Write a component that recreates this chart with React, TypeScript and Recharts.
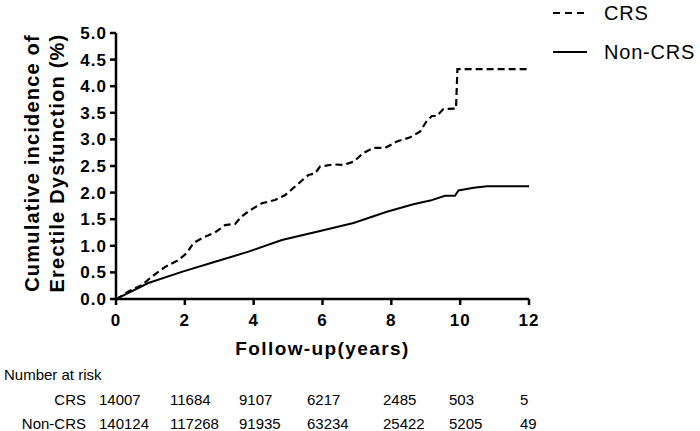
import { CartesianGrid, Line, LineChart, XAxis, YAxis } from 'recharts'

// cumulative incidence (%)
const crsYears = [
  0, 0.07, 0.36, 0.75, 1.04, 1.42, 1.81, 2.05, 2.25, 2.54, 2.88, 3.17, 3.46,
  3.65, 3.9, 4.24, 4.62, 4.91, 5.3, 5.59, 5.78, 5.93, 6.32, 6.6, 6.9, 7.18,
  7.47, 7.82, 8.16, 8.55, 8.84, 9.03, 9.18, 9.32, 9.51, 9.88, 9.92, 12,
]
const crsValues = [
  0, 0.02, 0.14, 0.26, 0.42, 0.6, 0.73, 0.86, 1.05, 1.16, 1.25, 1.39, 1.41,
  1.55, 1.67, 1.8, 1.86, 1.95, 2.17, 2.33, 2.36, 2.49, 2.53, 2.52, 2.58, 2.74,
  2.84, 2.84, 2.96, 3.04, 3.15, 3.35, 3.44, 3.44, 3.57, 3.58, 4.32, 4.32,
]
const nonCrsYears = [
  0, 0.07, 0.94, 1.91, 2.88, 3.85, 4.82, 5.93, 6.9, 7.87, 8.64, 9.13, 9.56,
  9.85, 9.95, 10.39, 10.78, 12,
]
const nonCrsValues = [
  0, 0.02, 0.3, 0.51, 0.7, 0.89, 1.11, 1.28, 1.43, 1.64, 1.78, 1.85, 1.94,
  1.94, 2.04, 2.09, 2.12, 2.12,
]

const xTicks = [0, 2, 4, 6, 8, 10, 12]
const yTicks = [0, 0.5, 1, 1.5, 2, 2.5, 3, 3.5, 4, 4.5, 5]

const riskGroups = ['CRS', 'Non-CRS']
const crsAtRisk = [14007, 11684, 9107, 6217, 2485, 503, 5]
const nonCrsAtRisk = [140124, 117268, 91935, 63234, 25422, 5205, 49]
const riskColumnLeft = [99, 170, 239, 307, 383, 449, 520]

const crsData = crsYears.map((year, i) => ({ year, value: crsValues[i] }))
const nonCrsData = nonCrsYears.map((year, i) => ({ year, value: nonCrsValues[i] }))

const WIDTH = 700
const HEIGHT = 431
const AXIS_FONT = '"Liberation Sans", Arial, sans-serif'
const tickStyle = {
  fontSize: 17,
  fontWeight: 700,
  fill: '#000',
  fontFamily: AXIS_FONT,
  letterSpacing: 1,
}

function YLabel() {
  const line = (text: string, left: number) => (
    <div
      style={{
        position: 'absolute',
        left,
        top: 163,
        transform: 'translate(-50%, -50%) rotate(-90deg)',
        whiteSpace: 'nowrap',
        fontFamily: AXIS_FONT,
        fontWeight: 700,
        fontSize: 20,
        letterSpacing: 1.2,
        lineHeight: 1,
      }}
    >
      {text}
    </div>
  )
  return (
    <>
      {line('Cumulative incidence of', 32)}
      {line('Erectile Dysfunction (%)', 57)}
    </>
  )
}

function LegendBox() {
  const item = (label: string, dashed: boolean, top: number) => (
    <div
      style={{
        position: 'absolute',
        left: 553,
        top,
        display: 'flex',
        alignItems: 'center',
        fontFamily: AXIS_FONT,
        fontSize: 20,
        lineHeight: 1,
      }}
    >
      <svg width={36} height={6}>
        <line
          x1={0}
          x2={34}
          y1={3}
          y2={3}
          stroke="#000"
          strokeWidth={2}
          strokeDasharray={dashed ? '7 5' : undefined}
        />
      </svg>
      <span style={{ marginLeft: 15, letterSpacing: 0.8 }}>{label}</span>
    </div>
  )
  return (
    <>
      {item('CRS', true, 3)}
      {item('Non-CRS', false, 42)}
    </>
  )
}

function RiskTable() {
  const rows = [crsAtRisk, nonCrsAtRisk]
  const text = {
    position: 'absolute' as const,
    fontFamily: AXIS_FONT,
    fontSize: 15,
    lineHeight: 1,
    whiteSpace: 'nowrap' as const,
  }
  return (
    <>
      <div style={{ ...text, left: 4, top: 367 }}>Number at risk</div>
      {rows.map((row, r) => (
        <div key={r}>
          <div style={{ ...text, right: WIDTH - 86, top: 392 + r * 24 }}>
            {riskGroups[r]}
          </div>
          {row.map((n, c) => (
            <div
              key={c}
              style={{ ...text, left: riskColumnLeft[c], top: 392 + r * 24 }}
            >
              {n}
            </div>
          ))}
        </div>
      ))}
    </>
  )
}

export default function App() {
  return (
    <div
      style={{
        position: 'relative',
        width: WIDTH,
        height: HEIGHT,
        background: '#fff',
        overflow: 'hidden',
      }}
    >
      <style>{'body{margin:0}'}</style>
      <LineChart
        width={WIDTH}
        height={HEIGHT}
        margin={{ top: 33, right: 171, bottom: 100, left: 0 }}
      >
        <CartesianGrid stroke="none" />
        <XAxis
          dataKey="year"
          type="number"
          domain={[0, 12]}
          ticks={xTicks}
          allowDataOverflow
          height={32}
          tick={tickStyle}
          tickSize={6}
          tickMargin={9}
          axisLine={{ stroke: '#000', strokeWidth: 2.5 }}
          tickLine={{ stroke: '#000', strokeWidth: 2.5 }}
          label={{
            value: 'Follow-up(years)',
            position: 'insideBottom',
            offset: -24,
            style: {
              fontSize: 19,
              fontWeight: 700,
              fill: '#000',
              fontFamily: AXIS_FONT,
              letterSpacing: 1.4,
            },
          }}
        />
        <YAxis
          dataKey="value"
          type="number"
          domain={[0, 5]}
          ticks={yTicks}
          width={116}
          tick={tickStyle}
          tickFormatter={(v: number) => v.toFixed(1)}
          tickSize={6}
          tickMargin={3}
          axisLine={{ stroke: '#000', strokeWidth: 2.5 }}
          tickLine={{ stroke: '#000', strokeWidth: 2.5 }}
        />
        <Line
          data={nonCrsData}
          dataKey="value"
          type="linear"
          stroke="#000"
          strokeWidth={2}
          dot={false}
          activeDot={false}
          isAnimationActive={false}
        />
        <Line
          data={crsData}
          dataKey="value"
          type="linear"
          stroke="#000"
          strokeWidth={2.2}
          strokeDasharray="7 4"
          dot={false}
          activeDot={false}
          isAnimationActive={false}
        />
      </LineChart>
      <YLabel />
      <LegendBox />
      <RiskTable />
    </div>
  )
}
